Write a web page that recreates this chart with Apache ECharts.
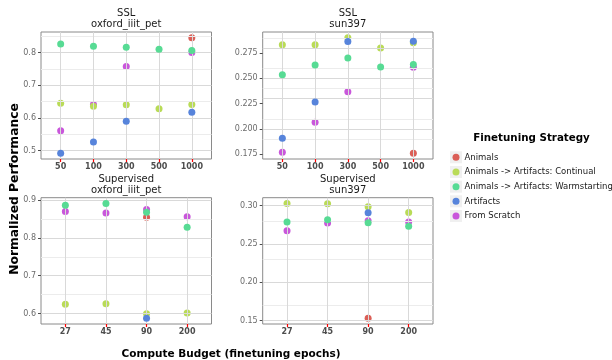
<!DOCTYPE html>
<html><head><meta charset="utf-8">
<script src="https://cdn.jsdelivr.net/npm/echarts@6/dist/echarts.min.js"></script>
<style>html,body{margin:0;padding:0;background:#fff}#c{width:612px;height:360px}</style>
</head><body><div id="c"></div>
<script>
// ---- data ----
const strategies = ['Animals', 'Animals -> Artifacts: Continual', 'Animals -> Artifacts: Warmstarting', 'Artifacts', 'From Scratch'];
const colors = ['#db5f57', '#b9db57', '#57db94', '#5784db', '#c957db'];
const sslEpochs = ['50', '100', '300', '500', '1000'];
const supEpochs = ['27', '45', '90', '200'];

// rows follow the order of `strategies`
const sslPet = [
  [null, null, null, null, 0.845],
  [0.645, 0.636, 0.640, 0.628, 0.641],
  [0.826, 0.819, 0.816, 0.810, 0.806],
  [0.492, 0.526, 0.590, null, 0.617],
  [0.561, 0.641, 0.757, null, 0.800]
];
const sslSun = [
  [null, null, null, null, 0.176],
  [0.283, 0.283, 0.290, 0.280, 0.285],
  [0.2534, 0.263, 0.270, 0.2612, 0.2636],
  [0.1908, 0.2265, 0.2862, null, 0.2865],
  [0.177, 0.2065, 0.2366, null, 0.2609]
];
const supPet = [
  [null, null, 0.854, null],
  [0.625, 0.626, 0.600, 0.602],
  [0.886, 0.8905, 0.867, 0.8275],
  [null, null, 0.588, null],
  [0.8695, 0.865, 0.8748, 0.8554]
];
const supSun = [
  [null, null, 0.1531, null],
  [0.3030, 0.3026, 0.2987, 0.2913],
  [0.2788, 0.2818, 0.2779, 0.2731],
  [null, null, 0.2909, null],
  [0.2675, 0.2775, 0.2805, 0.2788]
];

// tick values / labels / minor grid values
const sslPetTicks = [0.5, 0.6, 0.7, 0.8];
const sslPetLabels = ['0.5', '0.6', '0.7', '0.8'];
const sslPetMinor = [0.55, 0.65, 0.75, 0.85];
const sslSunTicks = [0.175, 0.2, 0.225, 0.25, 0.275];
const sslSunLabels = ['0.175', '0.200', '0.225', '0.250', '0.275'];
const sslSunMinor = [0.1875, 0.2125, 0.2375, 0.2625, 0.2875];
const supPetTicks = [0.6, 0.7, 0.8, 0.9];
const supPetLabels = ['0.6', '0.7', '0.8', '0.9'];
const supPetMinor = [0.65, 0.75, 0.85];
const supSunTicks = [0.15, 0.2, 0.25, 0.3];
const supSunLabels = ['0.15', '0.20', '0.25', '0.30'];
const supSunMinor = [0.175, 0.225, 0.275];

const panelTitles = ['SSL\noxford_iiit_pet', 'SSL\nsun397', 'Supervised\noxford_iiit_pet', 'Supervised\nsun397'];

// ---- layout ----
const FONT = 'DejaVu Sans';
const panels = [
  { cats: sslEpochs, vals: sslPet, ticks: sslPetTicks, labels: sslPetLabels, minor: sslPetMinor, rect: [41, 32, 170.5, 127] },
  { cats: sslEpochs, vals: sslSun, ticks: sslSunTicks, labels: sslSunLabels, minor: sslSunMinor, rect: [262.7, 32, 170.3, 127] },
  { cats: supEpochs, vals: supPet, ticks: supPetTicks, labels: supPetLabels, minor: supPetMinor, rect: [41, 197.7, 170.5, 126.3] },
  { cats: supEpochs, vals: supSun, ticks: supSunTicks, labels: supSunLabels, minor: supSunMinor, rect: [262.7, 197.7, 170.3, 126.3] }
];
const drawZ = [3, 4, 6, 5, 3];

const grid = [], xAxis = [], yAxis = [], series = [], graphic = [];

panels.forEach((p, i) => {
  const all = p.vals.flat().filter(v => v != null);
  const lo = Math.min(...all), hi = Math.max(...all);
  const pad = 0.05 * (hi - lo);
  const ymin = lo - pad, ymax = hi + pad;
  const idx = p.cats.map((c, j) => j);

  grid.push({
    left: p.rect[0], top: p.rect[1], width: p.rect[2], height: p.rect[3],
    show: true, borderColor: '#8a8a8a', borderWidth: 1, backgroundColor: '#ffffff', containLabel: false
  });
  xAxis.push({
    gridIndex: i, type: 'value', min: -0.6, max: p.cats.length - 0.4, position: 'bottom',
    axisLine: { show: false, onZero: false }, splitLine: { show: false },
    axisTick: { show: true, customValues: idx, length: 3, lineStyle: { color: '#ff0000', width: 1.2 } },
    axisLabel: {
      customValues: idx, formatter: v => p.cats[Math.round(v)], margin: 4,
      fontSize: 8, fontWeight: 'bold', color: '#4d4d4d', fontFamily: FONT
    }
  });
  yAxis.push({
    gridIndex: i, type: 'value', min: ymin, max: ymax, position: 'left',
    axisLine: { show: false, onZero: false }, splitLine: { show: false },
    axisTick: { show: true, customValues: p.ticks, length: 3, lineStyle: { color: '#4d4d4d', width: 1 } },
    axisLabel: {
      customValues: p.ticks, margin: 5, fontSize: 8, color: '#6b6b6b', fontFamily: FONT,
      formatter: v => {
        let best = 0;
        p.ticks.forEach((t, k) => { if (Math.abs(t - v) < Math.abs(p.ticks[best] - v)) best = k; });
        return p.labels[best];
      }
    }
  });

  const lines = [];
  p.minor.filter(v => v > ymin && v < ymax).forEach(v => lines.push({ yAxis: v, lineStyle: { color: '#ececec', width: 1, type: 'solid' } }));
  p.ticks.forEach(v => lines.push({ yAxis: v, lineStyle: { color: '#d9d9d9', width: 1, type: 'solid' } }));
  idx.forEach(v => lines.push({ xAxis: v, lineStyle: { color: '#d9d9d9', width: 1, type: 'solid' } }));
  series.push({
    type: 'scatter', xAxisIndex: i, yAxisIndex: i, data: [], silent: true, z: 1,
    markLine: { silent: true, symbol: ['none', 'none'], animation: false, label: { show: false },
      lineStyle: { type: 'solid' }, emphasis: { disabled: true }, data: lines }
  });

  strategies.forEach((s, k) => {
    const data = [];
    p.vals[k].forEach((v, j) => { if (v != null) data.push([j, v]); });
    series.push({
      type: 'scatter', name: s, xAxisIndex: i, yAxisIndex: i, data: data,
      symbolSize: 7, z: drawZ[k], itemStyle: { color: colors[k], opacity: 1 },
      emphasis: { disabled: true }
    });
  });

  graphic.push({
    type: 'text', x: p.rect[0] + p.rect[2] / 2, y: p.rect[1] - 13, z: 10,
    style: { text: panelTitles[i], textAlign: 'center', textVerticalAlign: 'middle',
      fontSize: 10, lineHeight: 10.5, fill: '#1a1a1a', fontFamily: FONT }
  });
});

// axis titles
graphic.push({
  type: 'text', x: 15, y: 189, rotation: Math.PI / 2, z: 10,
  style: { text: 'Normalized Performance', textAlign: 'center', textVerticalAlign: 'middle',
    fontSize: 12.3, fontWeight: 'bold', fill: '#000', fontFamily: FONT }
});
graphic.push({
  type: 'text', x: 231, y: 354, z: 10,
  style: { text: 'Compute Budget (finetuning epochs)', textAlign: 'center', textVerticalAlign: 'middle',
    fontSize: 10.5, fontWeight: 'bold', fill: '#000', fontFamily: FONT }
});
// legend title
graphic.push({
  type: 'text', x: 531.5, y: 138.5, z: 10,
  style: { text: 'Finetuning Strategy', textAlign: 'center', textVerticalAlign: 'middle',
    fontSize: 10.3, fontWeight: 'bold', fill: '#000', fontFamily: FONT }
});
// legend key backgrounds
const legendTop = 152.3, legendStep = 14.67;
strategies.forEach((s, k) => {
  graphic.push({
    type: 'rect', z: 0,
    shape: { x: 450, y: legendTop + 5 - 6 + k * legendStep, width: 12, height: 12 },
    style: { fill: '#f0f0f0' }
  });
});

const chart = echarts.init(document.getElementById('c'), null, { renderer: 'canvas' });
chart.setOption({
  animation: false,
  backgroundColor: '#ffffff',
  textStyle: { fontFamily: FONT },
  grid, xAxis, yAxis, series, graphic,
  legend: {
    data: strategies, orient: 'vertical', left: 452.5, top: legendTop, padding: 0,
    icon: 'circle', itemWidth: 7, itemHeight: 7, itemGap: 4.67, z: 20,
    selectedMode: false,
    textStyle: { fontSize: 8.5, lineHeight: 10, color: '#1a1a1a', fontFamily: FONT }
  }
});
</script>
</body></html>
